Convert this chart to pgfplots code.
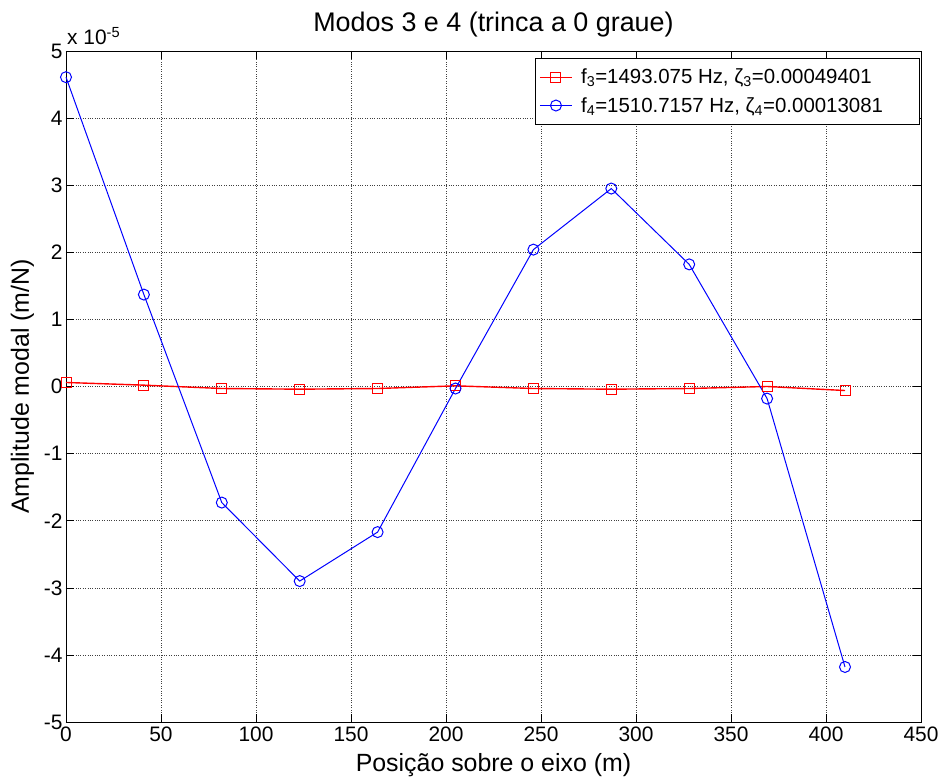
\documentclass[border=0pt]{standalone}
\usepackage{fontspec}
\setmainfont{Liberation Sans}
\usepackage{pgfplots}
\pgfplotsset{compat=1.18}
\begin{document}
\begin{tikzpicture}
\useasboundingbox (-66bp,-61bp) rectangle (876bp,722bp);
\begin{axis}[
  at={(0,0)}, anchor=south west,
  scale only axis, width=855bp, height=671bp,
  xmin=0, xmax=450, ymin=-5, ymax=5,
  xtick={0,50,...,450}, ytick={-5,-4,...,5},
  tick align=inside, tick pos=both,
  major tick length=8bp,
  tick style={black, line width=0.6pt},
  grid=major, grid style={dotted, black!75, line width=0.6pt},
  axis line style={black, line width=0.7pt},
  /pgf/number format/assume math mode=true,
  ticklabel style={font=\fontsize{21}{24}\selectfont},
  xticklabel style={yshift=-1bp},
  yticklabel style={xshift=0bp},
  xlabel={Posição sobre o eixo (m)}, ylabel={Amplitude modal (m/N)},
  label style={font=\fontsize{25}{28}\selectfont},
  xlabel style={yshift=-5bp}, ylabel style={yshift=3bp},
  title={Modos 3 e 4 (trinca a 0 graue)},
  title style={font=\fontsize{27}{30}\selectfont, yshift=4bp},
  legend style={at={(0.9985,0.989)}, anchor=north east, draw=black, fill=white,
    font=\fontsize{20.5}{23}\selectfont, row sep=7bp, inner xsep=4bp, inner ysep=8bp,
    nodes={inner sep=2.5bp}},
  legend cell align=left,
  legend image code/.code={%
    \draw[mark repeat=2, mark phase=2, #1] plot coordinates {(0bp,0bp) (16bp,0bp) (32bp,0bp)};},
  legend image post style={sharp plot},
  clip=false,
]
\addplot[red, line width=1.4pt, mark=square, mark size=5bp, mark options={solid, line width=1pt}]
  coordinates {(0,0.06) (41,0.02) (82,-0.03) (123,-0.04) (164,-0.03) (205,0.01) (246,-0.03) (287,-0.04) (328,-0.03) (369,-0.00) (410,-0.06)};
\addlegendentry{\hspace*{6bp}f\textsubscript{3}=1493.075 Hz, ζ\textsubscript{3}=0.00049401\hspace*{30bp}}
\addplot[blue, line width=1pt, mark=o, mark size=5.5bp, mark options={solid, line width=1pt}]
  coordinates {(0,4.61) (41,1.37) (82,-1.73) (123,-2.90) (164,-2.17) (205,-0.03) (246,2.04) (287,2.95) (328,1.82) (369,-0.18) (410,-4.18)};
\addlegendentry{\hspace*{6bp}f\textsubscript{4}=1510.7157 Hz, ζ\textsubscript{4}=0.00013081\hspace*{30bp}}
\node[anchor=south west, font=\fontsize{21}{24}\selectfont, inner sep=0pt] at (rel axis cs:0,1) [xshift=1bp, yshift=6bp] {x 10\textsuperscript{-5}};
\end{axis}
\end{tikzpicture}
\end{document}
